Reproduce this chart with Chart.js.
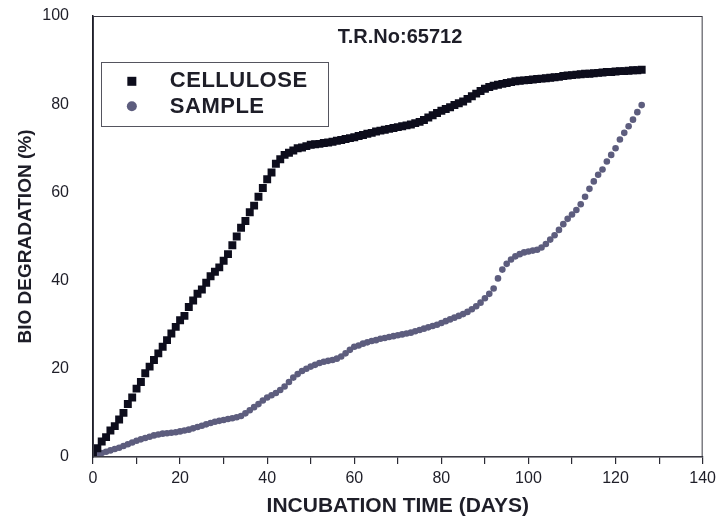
<!DOCTYPE html>
<html>
<head>
<meta charset="utf-8">
<script src="https://cdn.jsdelivr.net/npm/chart.js@4"></script>
<style>
html,body{margin:0;padding:0;background:#fff;}
#c{display:block;}
</style>
</head>
<body>
<canvas id="c" width="721" height="521"></canvas>
<script>
const chartTitle = 'T.R.No:65712';
const xTitle = 'INCUBATION TIME (DAYS)';
const yTitle = 'BIO DEGRADATION (%)';
const seriesNames = ['CELLULOSE', 'SAMPLE'];
const xTicks = [0, 20, 40, 60, 80, 100, 120, 140];
const yTicks = [0, 20, 40, 60, 80, 100];

const days = [
  0,1,2,3,4,5,6,7,8,9,
  10,11,12,13,14,15,16,17,18,19,
  20,21,22,23,24,25,26,27,28,29,
  30,31,32,33,34,35,36,37,38,39,
  40,41,42,43,44,45,46,47,48,49,
  50,51,52,53,54,55,56,57,58,59,
  60,61,62,63,64,65,66,67,68,69,
  70,71,72,73,74,75,76,77,78,79,
  80,81,82,83,84,85,86,87,88,89,
  90,91,92,93,94,95,96,97,98,99,
  100,101,102,103,104,105,106,107,108,109,
  110,111,112,113,114,115,116,117,118,119,
  120,121,122,123,124,125,126
];

const cellulose = [
  1, 2, 3.5, 4.5, 6, 7, 8.5, 10, 12, 13.5,
  15.5, 17, 19, 20.5, 22, 23.5, 25, 26.5, 28, 29.5,
  31, 32, 34, 35.5, 37, 38, 39.5, 41, 42, 43,
  44.5, 46, 48, 50, 52, 53.5, 55.5, 57, 59, 61,
  63, 64.5, 66.5, 67.5, 68.5, 69, 69.5, 70, 70.2, 70.5,
  70.8, 70.9, 71, 71.2, 71.3, 71.5, 71.7, 71.9, 72.1, 72.3,
  72.5, 72.8, 73, 73.3, 73.5, 73.8, 74, 74.2, 74.4, 74.6,
  74.8, 75, 75.2, 75.4, 75.7, 76, 76.4, 77, 77.5, 78,
  78.5, 78.9, 79.3, 79.8, 80.2, 80.6, 81.2, 81.8, 82.4, 83,
  83.5, 83.9, 84.2, 84.4, 84.6, 84.8, 85, 85.2, 85.3, 85.4,
  85.5, 85.6, 85.7, 85.8, 85.9, 86, 86.1, 86.2, 86.4, 86.5,
  86.6, 86.7, 86.8, 86.9, 86.9, 87, 87.1, 87.2, 87.3, 87.3,
  87.4, 87.5, 87.5, 87.6, 87.7, 87.7, 87.8
];

const sample = [
  0.3, 0.6, 0.9, 1.2, 1.5, 1.8, 2.1, 2.5, 2.9, 3.3,
  3.7, 4, 4.3, 4.6, 4.9, 5.1, 5.3, 5.4, 5.5, 5.6,
  5.8, 6, 6.2, 6.5, 6.8, 7.1, 7.4, 7.7, 8, 8.2,
  8.4, 8.6, 8.8, 9, 9.3, 9.9, 10.6, 11.3, 12, 12.8,
  13.5, 14, 14.5, 15.2, 16, 17, 18, 18.8, 19.5, 20,
  20.5, 20.9, 21.3, 21.6, 21.8, 22, 22.3, 22.8, 23.5, 24.3,
  25, 25.3, 25.7, 26, 26.3, 26.5, 26.8, 27, 27.2, 27.4,
  27.6, 27.8, 28, 28.2, 28.5, 28.8, 29.1, 29.4, 29.7, 30,
  30.4, 30.8, 31.2, 31.6, 32, 32.4, 32.9, 33.5, 34.2, 35,
  36, 37, 38.2, 40.5, 42.5, 43.8, 44.8, 45.5, 46, 46.4,
  46.6, 46.8, 47, 47.5, 48.3, 49.3, 50.3, 51.5, 52.8, 54,
  55, 56, 57.3, 59, 60.8, 62.5, 64, 65.2, 67, 68.5,
  70, 72, 73.5, 75, 76.5, 78.2, 79.8
];

const celluloseColor = '#0d0d1c';
const sampleColor = '#5d5d7e';
const inkColor = '#1e1e28';

const toPoints = (xs, ys) => xs.map((x, i) => ({ x: x, y: ys[i] }));

const overlayPlugin = {
  id: 'overlay',
  afterDraw(chart) {
    const ctx = chart.ctx;
    const a = chart.chartArea;
    const xs = chart.scales.x, ys = chart.scales.y;
    ctx.save();
    // frame
    ctx.strokeStyle = '#3a3a44';
    ctx.lineWidth = 1;
    ctx.strokeRect(a.left + 0.5, a.top + 0.5, a.right - a.left - 1, a.bottom - a.top - 1);
    // title inside plot
    ctx.fillStyle = inkColor;
    ctx.font = 'bold 20px "Liberation Sans", Arial, sans-serif';
    ctx.textAlign = 'center';
    ctx.textBaseline = 'middle';
    ctx.fillText(chartTitle, xs.getPixelForValue(70.5), ys.getPixelForValue(95.2));
    // legend box
    const bx = xs.getPixelForValue(1.8), by = ys.getPixelForValue(89.5);
    const bw = 227, bh = 64;
    ctx.strokeStyle = '#55555f';
    ctx.lineWidth = 1;
    ctx.strokeRect(Math.round(bx) + 0.5, Math.round(by) + 0.5, bw, bh);
    const ds = chart.data.datasets;
    // cellulose marker
    ctx.fillStyle = ds[0].backgroundColor;
    ctx.fillRect(bx + 26.5, by + 14.5, 9, 9);
    // sample marker
    ctx.fillStyle = ds[1].backgroundColor;
    ctx.beginPath();
    ctx.arc(bx + 31, by + 44, 5, 0, Math.PI * 2);
    ctx.fill();
    ctx.fillStyle = inkColor;
    ctx.font = 'bold 22px "Liberation Sans", Arial, sans-serif';
    ctx.textAlign = 'left';
    ctx.textBaseline = 'middle';
    try { ctx.letterSpacing = '0.5px'; } catch (e) {}
    ctx.fillText(ds[0].label, bx + 69, by + 19);
    ctx.fillText(ds[1].label, bx + 69, by + 45);
    ctx.restore();
  }
};

new Chart(document.getElementById('c'), {
  type: 'scatter',
  data: {
    datasets: [
      {
        label: seriesNames[0],
        data: toPoints(days, cellulose),
        showLine: false,
        pointStyle: 'rect',
        pointRadius: 5.6,
        pointBorderWidth: 0,
        backgroundColor: celluloseColor,
        borderColor: celluloseColor
      },
      {
        label: seriesNames[1],
        data: toPoints(days, sample),
        showLine: false,
        pointStyle: 'circle',
        pointRadius: 3.3,
        pointBorderWidth: 0,
        backgroundColor: sampleColor,
        borderColor: sampleColor
      }
    ]
  },
  options: {
    responsive: false,
    animation: false,
    devicePixelRatio: 1,
    layout: { padding: { top: 16, right: 17, left: 0, bottom: 0 } },
    plugins: {
      legend: { display: false },
      tooltip: { enabled: false },
      title: { display: false }
    },
    scales: {
      x: {
        type: 'linear',
        min: 0,
        max: 140,
        afterFit: (s) => { s.height = 64; },
        ticks: {
          stepSize: 10,
          autoSkip: false,
          maxRotation: 0,
          padding: 5,
          color: inkColor,
          font: { size: 16, family: '"Liberation Sans", Arial, sans-serif' },
          callback: (v) => (xTicks.includes(v) ? String(v) : '')
        },
        grid: {
          display: true,
          drawOnChartArea: false,
          drawTicks: true,
          tickLength: 7,
          color: '#2a2a34',
          lineWidth: 1.2
        },
        border: { display: true, color: '#1e1e28', width: 1.5 },
        title: {
          display: true,
          text: xTitle,
          color: inkColor,
          font: { size: 21, weight: 'bold', family: '"Liberation Sans", Arial, sans-serif' },
          padding: { top: 0, bottom: 2 }
        }
      },
      y: {
        type: 'linear',
        min: 0,
        max: 100,
        afterFit: (s) => { s.width = 93; s.paddingTop = 0; s.paddingBottom = 0; },
        afterBuildTicks: (s) => { s.ticks = yTicks.map(v => ({ value: v })); },
        ticks: {
          padding: 16,
          color: inkColor,
          font: { size: 16, family: '"Liberation Sans", Arial, sans-serif' }
        },
        grid: { display: false },
        border: { display: true, color: '#1e1e28', width: 1.5 },
        title: {
          display: true,
          text: yTitle,
          color: inkColor,
          font: { size: 19, weight: 'bold', family: '"Liberation Sans", Arial, sans-serif' },
          padding: { top: 14, bottom: 0 }
        }
      }
    }
  },
  plugins: [overlayPlugin]
});
</script>
</body>
</html>
